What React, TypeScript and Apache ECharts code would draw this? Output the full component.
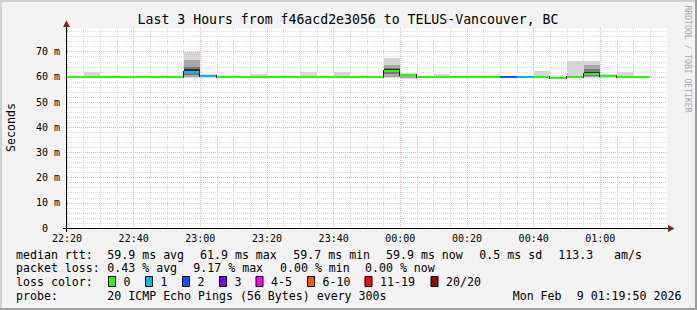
import React, { useEffect, useRef } from 'react';
import * as echarts from 'echarts';

// ---------- data ----------
const titleText = 'Last 3 Hours from f46acd2e3056 to TELUS-Vancouver, BC';
const timeLabels = ['22:20', '22:40', '23:00', '23:20', '23:40', '00:00', '00:20', '00:40', '01:00'];
const slotMinutes = 5; // one probe round every 300 s

// median rtt per 5-minute slot (ms), starting 22:20
const median = [
  59.9, 59.9, 59.9, 59.9, 59.9, 59.9, 59.9, 62.1, 60.2, 59.9,
  59.9, 59.9, 59.9, 59.9, 59.9, 59.9, 59.9, 59.9, 59.9, 62.2,
  60.6, 59.9, 59.9, 59.9, 59.9, 59.9, 59.9, 59.9, 59.9, 59.6,
  59.9, 61.3, 60.3, 59.9, 59.9,
];
// lost pings per slot (out of 20)
const lostPings = [
  0, 0, 0, 0, 0, 0, 0, 1, 1, 0,
  0, 0, 0, 0, 0, 0, 0, 0, 0, 0,
  0, 0, 0, 0, 0, 0, 2, 1, 0, 0,
  0, 0, 0, 0, 0,
];
// smoke: full spread of the pings
const smokeMax = [
  60.0, 62.0, 60.0, 60.0, 60.0, 60.0, 60.0, 69.7, 61.1, 60.0,
  60.0, 61.1, 60.0, 60.0, 62.0, 60.0, 62.0, 60.0, 60.0, 67.4,
  61.4, 60.0, 61.0, 60.0, 60.0, 60.0, 60.0, 60.0, 62.3, 60.0,
  66.3, 66.3, 61.1, 62.0, 60.0,
];
const smokeMin = [
  59.7, 59.7, 59.7, 59.7, 59.7, 59.7, 59.7, 59.4, 59.6, 59.7,
  59.7, 59.7, 59.7, 59.7, 59.7, 59.7, 59.7, 59.7, 59.7, 59.4,
  59.3, 59.7, 59.7, 59.7, 59.7, 59.7, 59.7, 59.7, 59.7, 59.1,
  59.7, 59.4, 59.7, 59.7, 59.7,
];
const N = null;
// denser inner smoke bands
const midLo = [N, N, N, N, N, N, N, 60.0, N, N, N, N, N, N, N, N, N, N, N, 60.0, 59.6, N, N, N, N, N, N, N, N, 59.2, N, 60.0, N, N, N];
const midHi = [N, N, N, N, N, N, N, 66.5, N, N, N, N, N, N, N, N, N, N, N, 64.7, 61.0, N, N, N, N, N, N, N, N, 59.9, N, 64.7, N, N, N];
const innerLo = [N, N, N, N, N, N, N, 60.8, N, N, N, N, N, N, N, N, N, N, N, 61.0, N, N, N, N, N, N, N, N, N, N, N, 60.5, N, N, N];
const innerHi = [N, N, N, N, N, N, N, 64.0, N, N, N, N, N, N, N, N, N, N, N, 63.4, N, N, N, N, N, N, N, N, N, N, N, 63.1, N, N, N];
const coreLo = [N, N, N, N, N, N, N, 61.5, N, N, N, N, N, N, N, N, N, N, N, 61.8, N, N, N, N, N, N, N, N, N, N, N, 61.0, N, N, N];
const coreHi = [N, N, N, N, N, N, N, 63.1, N, N, N, N, N, N, N, N, N, N, N, 63.2, N, N, N, N, N, N, N, N, N, N, N, 61.9, N, N, N];

const lossLabels = ['0', '1', '2', '3', '4-5', '6-10', '11-19', '20/20'];
const lossColors = ['#26ff00', '#00b8ff', '#0059ff', '#7e00ff', '#ff00ff', '#ff5500', '#ff0000', '#a10000'];

const rttStats = ['59.9 ms avg', '61.9 ms max', '59.7 ms min', '59.9 ms now', '0.5 ms sd', '113.3', 'am/s'];
const lossStats = ['0.43 % avg', '9.17 % max', '0.00 % min', '0.00 % now'];
const probeText = '20 ICMP Echo Pings (56 Bytes) every 300s';
const dateParts = ['Mon Feb', '9 01:19:50 2026'];

// ---------- layout ----------
const W = 697;
const H = 310;
const FONT = '"DejaVu Sans Mono", monospace';
const rttStatX = [107.3, 200, 293.3, 386, 479.3, 558.3, 614];
const lossStatX = [107.3, 193.3, 280, 365];
const lossBoxX = [108.5, 145.5, 182.5, 219.5, 256, 307.5, 365, 431];
const dateX = [512.7, 576.7];
const lineY = [254.8, 268.4, 282.2, 295.8];

function lossBucket(n: number): number {
  if (n <= 3) return n;
  if (n <= 5) return 4;
  if (n <= 10) return 5;
  if (n <= 19) return 6;
  return 7;
}

function bandData(lo: (number | null)[], hi: (number | null)[]) {
  const out: number[][] = [];
  lo.forEach((l, i) => {
    const h = hi[i];
    if (l == null || h == null) return;
    out.push([i * slotMinutes, (i + 1) * slotMinutes, l, h]);
  });
  return out;
}

function bandSeries(data: number[][], color: string, z: number) {
  return {
    type: 'custom',
    silent: true,
    z,
    encode: { x: [0, 1], y: [2, 3] },
    data,
    renderItem: (_p: any, api: any) => {
      const x0 = Math.round(api.coord([api.value(0), 0])[0]);
      const x1 = Math.round(api.coord([api.value(1), 0])[0]);
      const yb = Math.round(api.coord([0, api.value(2)])[1]);
      const yt = Math.round(api.coord([0, api.value(3)])[1]);
      return {
        type: 'rect',
        shape: { x: x0, y: yt, width: x1 - x0, height: Math.max(1, yb - yt) },
        style: { fill: color },
      };
    },
  };
}

function text(t: string, x: number, y: number, size: number, extra: any = {}) {
  return {
    type: 'text',
    x,
    y,
    z: 100,
    silent: true,
    style: {
      text: t,
      fill: '#000',
      fontFamily: FONT,
      fontSize: size,
      align: 'left',
      verticalAlign: 'middle',
      ...extra,
    },
  };
}

export default function App() {
  const ref = useRef<HTMLDivElement>(null);

  useEffect(() => {
    if (!ref.current) return;
    const chart = echarts.init(ref.current, undefined, { renderer: 'svg' });

    const medianData = median.map((m, i) => [
      i * slotMinutes,
      (i + 1) * slotMinutes,
      m,
      i === 0 ? m : median[i - 1],
      lossBucket(lostPings[i]),
    ]);

    const majorX = '#f2b6b6';
    const minorX = '#dcdcdc';

    const graphics: any[] = [
      // 3D-ish border
      { type: 'rect', z: 90, silent: true, shape: { x: 0, y: 0, width: W, height: 2 }, style: { fill: '#d0d0d0' } },
      { type: 'rect', z: 90, silent: true, shape: { x: 0, y: 0, width: 2, height: H }, style: { fill: '#d0d0d0' } },
      { type: 'rect', z: 91, silent: true, shape: { x: W - 2, y: 0, width: 2, height: H }, style: { fill: '#9e9e9e' } },
      { type: 'rect', z: 91, silent: true, shape: { x: 0, y: H - 2, width: W, height: 2 }, style: { fill: '#9e9e9e' } },
      // axes
      { type: 'rect', z: 100, silent: true, shape: { x: 66, y: 24, width: 1, height: 208 }, style: { fill: '#000' } },
      { type: 'rect', z: 100, silent: true, shape: { x: 63, y: 228, width: 606, height: 1 }, style: { fill: '#000' } },
      { type: 'polygon', z: 101, silent: true, shape: { points: [[63, 27], [66.5, 20.5], [70, 27]] }, style: { fill: '#8b1a1a' } },
      { type: 'polygon', z: 101, silent: true, shape: { points: [[668, 225], [674.5, 228.5], [668, 232]] }, style: { fill: '#8b1a1a' } },
      // title
      text(titleText, 348, 19, 13.2, { align: 'center' }),
      // y axis name
      { ...text('Seconds', 11, 127.5, 11.6, { align: 'center' }), rotation: Math.PI / 2 },
      // watermark
      { ...text('RRDTOOL / TOBI OETIKER', 688, 59, 8.1, { align: 'center', fill: '#a8a8a8' }), rotation: -Math.PI / 2 },
      // legend lines
      text('median rtt:', 16, lineY[0], 11.6),
      ...rttStats.map((s, i) => text(s, rttStatX[i], lineY[0], 11.6)),
      text('packet loss:', 16, lineY[1], 11.6),
      ...lossStats.map((s, i) => text(s, lossStatX[i], lineY[1], 11.6)),
      text('loss color:', 16, lineY[2], 11.6),
      ...lossLabels.map((s, i) => text(s, lossBoxX[i] + 15, lineY[2], 11.6)),
      ...lossColors.map((c, i) => ({
        type: 'rect',
        z: 100,
        silent: true,
        shape: { x: lossBoxX[i], y: 276.5, width: 7, height: 10 },
        style: { fill: c, stroke: '#000', lineWidth: 1 },
      })),
      text('probe:', 16, lineY[3], 11.6),
      text(probeText, 107.3, lineY[3], 11.6),
      ...dateParts.map((s, i) => text(s, dateX[i], lineY[3], 11.6)),
    ];

    const option: any = {
      animation: false,
      backgroundColor: '#f3f3f3',
      textStyle: { fontFamily: FONT },
      grid: {
        left: 67,
        top: 28,
        width: 600,
        height: 200,
        show: true,
        backgroundColor: '#ffffff',
        borderWidth: 0,
        containLabel: false,
        outerBoundsMode: 'none',
      },
      xAxis: {
        type: 'value',
        min: 0,
        max: timeLabels.length * 20,
        interval: slotMinutes,
        axisLine: { show: false },
        axisTick: { show: false },
        axisLabel: {
          showMaxLabel: false,
          margin: 5,
          fontFamily: FONT,
          fontSize: 10,
          color: '#000',
          formatter: (v: number) => (v % 20 === 0 ? timeLabels[v / 20] ?? '' : ''),
        },
        splitLine: {
          show: true,
          showMaxLine: false,
          lineStyle: { color: [majorX, minorX, minorX, minorX], type: [1, 1], width: 1 },
        },
      },
      yAxis: {
        type: 'value',
        min: 0,
        max: 79.4,
        interval: 2,
        axisLine: { show: false },
        axisTick: { show: false },
        axisLabel: {
          showMaxLabel: false,
          margin: 7,
          fontFamily: FONT,
          fontSize: 10,
          color: '#000',
          formatter: (v: number) => {
            if (Math.abs(v % 10) > 1e-6) return '';
            return v === 0 ? '{z|0}' : `${Math.round(v)} m`;
          },
          rich: { z: { fontFamily: FONT, fontSize: 10, color: '#000', padding: [0, 12, 0, 0] } },
        },
        splitLine: {
          show: true,
          showMaxLine: false,
          lineStyle: { color: [majorX, minorX, minorX, minorX, minorX], type: [1, 1], width: 1 },
        },
      },
      series: [
        bandSeries(bandData(smokeMin, smokeMax), '#d6d6d6', 2),
        bandSeries(bandData(midLo, midHi), '#a8a8a8', 3),
        bandSeries(bandData(innerLo, innerHi), '#7a7a7a', 4),
        bandSeries(bandData(coreLo, coreHi), '#2e2e2e', 5),
        {
          type: 'custom',
          silent: true,
          z: 6,
          encode: { x: [0, 1], y: [2, 3] },
          data: medianData,
          renderItem: (_p: any, api: any) => {
            const x0 = Math.round(api.coord([api.value(0), 0])[0]);
            const x1 = Math.round(api.coord([api.value(1), 0])[0]);
            const yc = api.coord([0, api.value(2)])[1];
            const yp = api.coord([0, api.value(3)])[1];
            const color = lossColors[api.value(4)];
            const children: any[] = [];
            const top = Math.round(yc - 1);
            const ptop = Math.round(yp - 1);
            if (ptop !== top) {
              const a = Math.min(top, ptop);
              const b = Math.max(top, ptop) + 2;
              children.push({
                type: 'rect',
                shape: { x: x0 - 1, y: a, width: 1, height: b - a },
                style: { fill: '#1a1a1a' },
              });
            }
            children.push({
              type: 'rect',
              shape: { x: x0, y: top, width: x1 - x0, height: 2 },
              style: { fill: color },
            });
            return { type: 'group', children };
          },
        },
      ],
      graphic: graphics,
    };

    chart.setOption(option);
    return () => chart.dispose();
  }, []);

  return (
    <div
      ref={ref}
      style={{ position: 'fixed', left: 0, top: 0, width: W, height: H }}
    />
  );
}
